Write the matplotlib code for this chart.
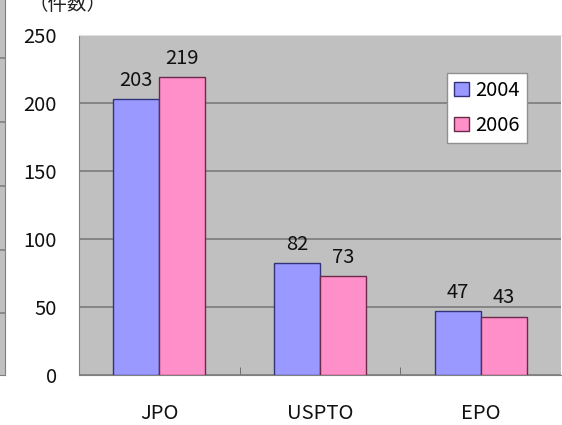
import numpy as np
import matplotlib
matplotlib.use('Agg')
import matplotlib.pyplot as plt

# data
offices = ['JPO', 'USPTO', 'EPO']
years = ['2004', '2006']
counts_2004 = [203, 82, 47]
counts_2006 = [219, 73, 43]
y_ticks = [0, 50, 100, 150, 200, 250]
unit_label = '（件数）'

plt.rcParams['font.family'] = ['Noto Sans CJK JP', 'DejaVu Sans']

W, H = 562, 425
fig = plt.figure(figsize=(W / 100, H / 100), dpi=100)
fig.patch.set_facecolor('white')

# leftover strip of a neighbouring chart at the left edge
strip = fig.add_axes([0, (H - 375) / H, 5 / W, 375 / H])
strip.set_facecolor('#c0c0c0')
strip.set_ylim(0, 375)
for yy in [62, 125, 189, 253, 317]:
    strip.axhline(yy, color='#808080', lw=1.2)
strip.set_xticks([])
strip.set_yticks([])
for s in strip.spines.values():
    s.set_visible(False)
strip.spines['right'].set_visible(True)
strip.spines['right'].set_color('#808080')
strip.spines['bottom'].set_visible(True)
strip.spines['bottom'].set_color('#808080')

# main chart
left, right, top, bottom = 79, 561, 35, 375
ax = fig.add_axes([left / W, (H - bottom) / H, (right - left) / W, (bottom - top) / H])
ax.set_facecolor('#c0c0c0')

x = np.arange(len(offices))
bw = 0.286
b1 = ax.bar(x - bw / 2, counts_2004, bw, color='#9999ff', edgecolor='#33337a', lw=1.0,
            label=years[0], zorder=3)
b2 = ax.bar(x + bw / 2, counts_2006, bw, color='#ff8fc8', edgecolor='#6a2a4a', lw=1.0,
            label=years[1], zorder=3)

for bars in (b1, b2):
    for r in bars:
        ax.text(r.get_x() + r.get_width() / 2, r.get_height() + 6, str(int(r.get_height())),
                ha='center', va='bottom', fontsize=14.5, color='#111111')

ax.set_xlim(-0.5, len(offices) - 0.5)
ax.set_ylim(0, 250)
ax.set_yticks(y_ticks)
ax.set_yticklabels([str(v) for v in y_ticks])
ax.yaxis.grid(True, color='#808080', lw=1.3, zorder=1)
ax.tick_params(axis='y', length=0, pad=16, labelsize=14.5, labelcolor='#111111')
ax.set_xticks(x)
ax.set_xticklabels(offices)
ax.tick_params(axis='x', length=0, pad=20, labelsize=14.5, labelcolor='#111111')
ax.set_xticks([0.5, 1.5], minor=True)
ax.tick_params(axis='x', which='minor', direction='in', length=6, color='#606060')

for s in ax.spines.values():
    s.set_visible(False)
ax.spines['left'].set_visible(True)
ax.spines['left'].set_color('#808080')
ax.spines['bottom'].set_visible(True)
ax.spines['bottom'].set_color('#808080')
ax.spines['top'].set_visible(True)
ax.spines['top'].set_color('#e0e0e0')

leg = ax.legend(loc='upper left', bbox_to_anchor=((447 - left) / (right - left), 1 - (73 - top) / (bottom - top)),
                fontsize=14.5, frameon=True, fancybox=False, borderpad=0.35, handlelength=0.75,
                handleheight=0.75, handletextpad=0.3, labelspacing=0.7, borderaxespad=0)
leg.get_frame().set_edgecolor('#909090')
leg.get_frame().set_linewidth(1.0)
leg.get_frame().set_alpha(1)

fig.text(28 / W, 1 - 4 / H, unit_label, ha='left', va='center', fontsize=14, color='#222222')

fig.savefig('out.png', dpi=100)
